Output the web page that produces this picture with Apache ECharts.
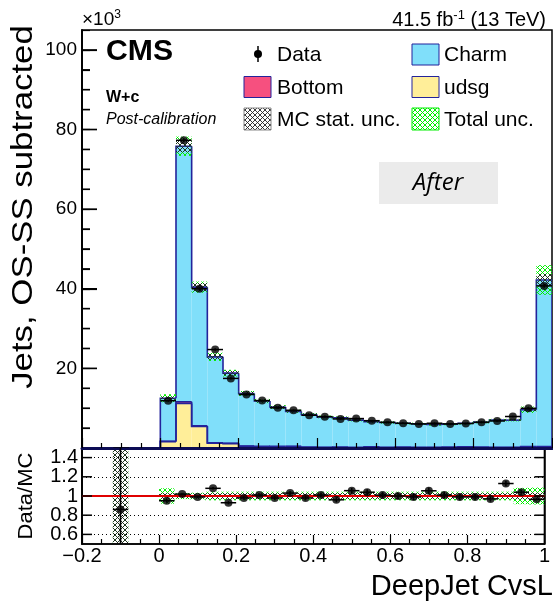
<!DOCTYPE html>
<html><head><meta charset="utf-8">
<script src="https://cdn.jsdelivr.net/npm/echarts@6/dist/echarts.min.js"></script>
<style>html,body{margin:0;padding:0;background:#fff}#c{width:553px;height:601px}</style>
</head><body><div id="c"></div>
<script>
// ---------------- data (values in units of 10^3 jets) ----------------
const binCenters = [-0.10, 0.02, 0.06, 0.10, 0.14, 0.18, 0.22, 0.26, 0.30, 0.34, 0.38, 0.42, 0.46, 0.50, 0.54, 0.58, 0.62, 0.66, 0.70, 0.74, 0.78, 0.82, 0.86, 0.90, 0.94, 0.98];
const binWidth = 0.04;
const charm  = [-0.03, 10.8, 64.2, 34.85, 21.6, 17.6, 13.2, 11.4, 9.85, 8.75, 8.15, 7.6, 7.35, 6.82, 6.27, 6.22, 5.97, 5.92, 5.72, 5.77, 5.87, 6.27, 6.82, 6.82, 9.25, 41.85];
const bottom = [0.0, 0.1, 0.4, 0.15, 0.1, 0.1, 0.1, 0.1, 0.25, 0.3, 0.15, 0.1, 0.15, 0.1, 0.25, 0.1, 0.15, 0.1, 0.1, 0.15, 0.25, 0.15, 0.1, 0.1, 0.25, 0.2];
const udsg   = [-0.02, 1.6, 11.2, 5.4, 1.2, 1.1, 0.4, 0.3, 0.2, 0.15, 0.1, 0.1, 0.1, 0.08, 0.08, 0.08, 0.08, 0.08, 0.08, 0.08, 0.08, 0.08, 0.08, 0.08, 0.1, 0.15];
const dataVals = [-0.043, 11.88, 77.3, 40.0, 24.73, 17.48, 13.43, 11.92, 10.09, 9.48, 8.23, 7.88, 7.30, 7.39, 6.86, 6.46, 6.20, 6.04, 6.22, 6.06, 6.14, 6.44, 6.79, 7.91, 9.98, 40.72];
const dataErr  = [0.2, 0.25, 0.5, 0.4, 0.3, 0.3, 0.25, 0.2, 0.2, 0.2, 0.2, 0.2, 0.2, 0.2, 0.2, 0.2, 0.2, 0.2, 0.2, 0.2, 0.2, 0.2, 0.2, 0.2, 0.25, 0.45];
const statUncRel = [6, 0.03, 0.02, 0.025, 0.03, 0.03, 0.03, 0.03, 0.03, 0.03, 0.03, 0.03, 0.03, 0.03, 0.03, 0.03, 0.03, 0.03, 0.03, 0.03, 0.03, 0.03, 0.03, 0.03, 0.035, 0.035];
const totUncRel  = [6, 0.08, 0.032, 0.035, 0.045, 0.045, 0.045, 0.045, 0.045, 0.045, 0.045, 0.045, 0.045, 0.045, 0.045, 0.045, 0.045, 0.045, 0.045, 0.045, 0.045, 0.045, 0.045, 0.045, 0.085, 0.088];
const yMajorTicks = [20, 40, 60, 80, 100];
const yMinorTicks = [5, 10, 15, 25, 30, 35, 45, 50, 55, 65, 70, 75, 85, 90, 95];
const ratioTicks = [0.6, 0.8, 1, 1.2, 1.4];
const ratioLabelsA = [0.6, 1, 1.4];
const ratioLabelsB = [0.8, 1.2];
const ratioGridLines = [0.6, 0.8, 1.2, 1.4];

// ---------------- derived ----------------
const MC = binCenters.map((_, i) => charm[i] + bottom[i] + udsg[i]);
const udsgTop = udsg.slice();
const bottomTop = udsg.map((v, i) => v + bottom[i]);
const ratio = dataVals.map((v, i) => v / MC[i]);
const ratioErr = dataErr.map((e, i) => e / Math.abs(MC[i]));

const FONT = "'Liberation Sans', Arial, Helvetica, sans-serif";
const C_CHARM = '#80dffa', C_BOTTOM = '#f6507f', C_UDSG = '#ffee99', C_LINE = '#23239b';

function hatch(color, size, lw) {
  const c = document.createElement('canvas'); c.width = c.height = size;
  const g = c.getContext('2d'); g.strokeStyle = color; g.lineWidth = lw;
  g.beginPath(); g.moveTo(0, 0); g.lineTo(size, size); g.moveTo(size, 0); g.lineTo(0, size); g.stroke();
  return { image: c, repeat: 'repeat' };
}
const GREEN_HATCH = hatch('#00ee00', 5, 1);
const BLACK_HATCH = hatch('#222', 5, 0.9);

function rectSeries(xi, yi, base, top, fill, z) {
  return {
    type: 'custom', xAxisIndex: xi, yAxisIndex: yi, z: z, clip: true, silent: true,
    encode: { x: [0, 1], y: [2, 3] },
    data: binCenters.map((c, i) => [c - binWidth / 2, c + binWidth / 2, base[i], top[i]]),
    renderItem: (params, api) => {
      const a = api.coord([api.value(0), api.value(3)]);
      const b = api.coord([api.value(1), api.value(2)]);
      const y0 = Math.min(a[1], b[1]), y1 = Math.max(a[1], b[1]);
      return { type: 'rect', shape: { x: a[0], y: y0, width: b[0] - a[0], height: y1 - y0 }, style: { fill: fill } };
    }
  };
}
function outlineSeries(top, z) {
  const contiguous = (i, j) => j >= 0 && j < binCenters.length && Math.abs(Math.abs(binCenters[j] - binCenters[i]) - binWidth) < 1e-6;
  return {
    type: 'custom', xAxisIndex: 0, yAxisIndex: 1, z: z, clip: true, silent: true,
    encode: { x: [0, 1], y: 2 },
    data: binCenters.map((c, i) => [c - binWidth / 2, c + binWidth / 2, top[i],
      contiguous(i, i - 1) ? top[i - 1] : 0, contiguous(i, i + 1) ? 1 : 0]),
    renderItem: (params, api) => {
      const x0 = api.value(0), x1 = api.value(1), t = api.value(2), pv = api.value(3), hasNext = api.value(4);
      const pts = [api.coord([x0, pv]), api.coord([x0, t]), api.coord([x1, t])];
      if (!hasNext) pts.push(api.coord([x1, 0]));
      return { type: 'polyline', shape: { points: pts }, style: { stroke: C_LINE, lineWidth: 1.6, fill: null } };
    }
  };
}
function errorSeries(xi, yi, vals, errs, z) {
  return {
    type: 'custom', xAxisIndex: xi, yAxisIndex: yi, z: z, clip: true, silent: true,
    encode: { x: 0, y: 1 },
    data: binCenters.map((c, i) => [c, vals[i], errs[i]]),
    renderItem: (params, api) => {
      const c = api.value(0), v = api.value(1), e = api.value(2);
      const l = api.coord([c - binWidth / 2, v]), r = api.coord([c + binWidth / 2, v]);
      const t = api.coord([c, v + e]), b = api.coord([c, v - e]);
      return { type: 'group', children: [
        { type: 'line', shape: { x1: l[0], y1: l[1], x2: r[0], y2: r[1] }, style: { stroke: '#000', lineWidth: 1.5 } },
        { type: 'line', shape: { x1: t[0], y1: t[1], x2: b[0], y2: b[1] }, style: { stroke: '#000', lineWidth: 1.5 } }
      ] };
    }
  };
}

const zeros = binCenters.map(() => 0);
const mcLoTot = MC.map((v, i) => v * (1 - totUncRel[i])), mcHiTot = MC.map((v, i) => v * (1 + totUncRel[i]));
const mcLoStat = MC.map((v, i) => v * (1 - statUncRel[i])), mcHiStat = MC.map((v, i) => v * (1 + statUncRel[i]));
const rLoTot = totUncRel.map(u => 1 - u), rHiTot = totUncRel.map(u => 1 + u);
const rLoStat = statUncRel.map(u => 1 - u), rHiStat = statUncRel.map(u => 1 + u);

const blackLine = () => ({ show: true, onZero: false, lineStyle: { color: '#000', width: 1.5 } });
const tickStyle = () => ({ color: '#000', width: 1.2 });
const xAxisCommon = () => ({
  type: 'value', min: -0.2, max: 1, interval: 0.2, position: 'bottom', z: 5,
  axisLine: blackLine(), splitLine: { show: false },
  axisTick: { show: true, inside: true, length: 10, lineStyle: tickStyle() },
  minorTick: { show: true, splitNumber: 4, length: 5, lineStyle: tickStyle() }
});
const ratioLabelAxis = (vals) => ({ gridIndex: 1, type: 'value', min: 0.5, max: 1.5, position: 'left',
  axisLine: blackLine(), splitLine: { show: false }, minorTick: { show: false }, axisTick: { show: false },
  axisLabel: { show: true, customValues: vals, hideOverlap: false, fontFamily: FONT, fontSize: 20, color: '#000', margin: 4 } });

const option = {
  animation: false,
  backgroundColor: '#fff',
  grid: [
    { left: 82, top: 30, width: 470, height: 418, show: true, borderColor: '#000', borderWidth: 1.5, backgroundColor: 'transparent' },
    { left: 82, top: 448, width: 470, height: 96, show: true, borderColor: '#000', borderWidth: 1.5, backgroundColor: 'transparent' }
  ],
  xAxis: [
    Object.assign(xAxisCommon(), { gridIndex: 0, axisLabel: { show: false },
      axisLine: { show: true, onZero: false, lineStyle: { color: '#0c0c55', width: 3 } } }),
    Object.assign(xAxisCommon(), { gridIndex: 1, axisTick: { show: true, inside: true, length: 9, lineStyle: tickStyle() },
      axisLabel: { show: true, fontFamily: FONT, fontSize: 20, color: '#000', margin: 2, hideOverlap: false,
        formatter: v => (Math.abs(v) < 1e-9 ? '0' : String(Math.round(v * 10) / 10).replace('-', '\u2212')) } })
  ],
  yAxis: [
    { gridIndex: 0, type: 'value', min: 0, max: 105, interval: 5, position: 'left',
      axisLine: blackLine(), splitLine: { show: false }, axisLabel: { show: false }, minorTick: { show: false },
      axisTick: { show: true, inside: true, length: 8, lineStyle: tickStyle() } },
    { gridIndex: 0, type: 'value', min: 0, max: 105, interval: 20, position: 'left',
      axisLine: blackLine(), splitLine: { show: false }, minorTick: { show: false },
      axisTick: { show: true, inside: true, length: 15, lineStyle: tickStyle() },
      axisLabel: { show: true, showMinLabel: false, showMaxLabel: false, hideOverlap: false, fontFamily: FONT, fontSize: 19, color: '#000', margin: 5,
        formatter: v => (v === 0 || v > 100 ? '' : String(v)) } },
    ratioLabelAxis(ratioLabelsA),
    { gridIndex: 1, type: 'value', min: 0.5, max: 1.5, position: 'right',
      axisLine: blackLine(), splitLine: { show: false }, minorTick: { show: false }, axisTick: { show: false }, axisLabel: { show: false } },
    ratioLabelAxis(ratioLabelsB)
  ],
  series: [
    rectSeries(0, 1, zeros, udsgTop, C_UDSG, 2),
    rectSeries(0, 1, udsgTop, bottomTop, C_BOTTOM, 2),
    rectSeries(0, 1, bottomTop, MC, C_CHARM, 2),
    outlineSeries(udsgTop, 3),
    outlineSeries(bottomTop, 3),
    outlineSeries(MC, 3),
    rectSeries(0, 1, mcLoTot, mcHiTot, GREEN_HATCH, 4),
    rectSeries(0, 1, mcLoStat, mcHiStat, BLACK_HATCH, 4),
    errorSeries(0, 1, dataVals, dataErr, 6),
    { type: 'scatter', xAxisIndex: 0, yAxisIndex: 1, z: 7, symbol: 'circle', symbolSize: 8, silent: true,
      itemStyle: { color: '#000' }, data: binCenters.map((c, i) => [c, dataVals[i]]) },
    // ratio panel
    { type: 'line', xAxisIndex: 1, yAxisIndex: 2, z: 1, symbol: 'none', silent: true, data: [],
      markLine: { silent: true, symbol: 'none', label: { show: false }, animation: false,
        lineStyle: { type: [1, 3], color: '#000', width: 1 }, data: ratioGridLines.map(v => ({ yAxis: v })) } },
    rectSeries(1, 2, rLoTot, rHiTot, GREEN_HATCH, 3),
    rectSeries(1, 2, rLoStat, rHiStat, BLACK_HATCH, 3),
    { type: 'line', xAxisIndex: 1, yAxisIndex: 2, z: 4, symbol: 'none', silent: true,
      lineStyle: { color: '#e00000', width: 1.8 }, data: [[-0.2, 1], [1, 1]] },
    errorSeries(1, 2, ratio, ratioErr, 6),
    { type: 'scatter', xAxisIndex: 1, yAxisIndex: 2, z: 7, symbol: 'circle', symbolSize: 8, silent: true,
      itemStyle: { color: '#000' }, data: binCenters.map((c, i) => [c, ratio[i]]) }
  ],
  graphic: [
    { type: 'text', id: 'ytitle', x: 24, y: 207, rotation: Math.PI / 2, scaleX: 1.2, style: { text: 'Jets, OS-SS subtracted', fontFamily: FONT, fontSize: 29, fill: '#000', textAlign: 'center', textVerticalAlign: 'middle' } },
    { type: 'text', id: 'rtitle', x: 26, y: 496, rotation: Math.PI / 2, scaleX: 1.1, style: { text: 'Data/MC', fontFamily: FONT, fontSize: 20, fill: '#000', textAlign: 'center', textVerticalAlign: 'middle' } },
    { type: 'text', id: 'xtitle', x: 553, y: 587, style: { text: 'DeepJet CvsL', fontFamily: FONT, fontSize: 29, fill: '#000', textAlign: 'right', textVerticalAlign: 'middle' } },
    { type: 'text', id: 'exp', x: 82, y: 20, style: { text: '{a|×10}{s|3}', fill: '#000', textAlign: 'left', textVerticalAlign: 'middle',
      rich: { a: { fontFamily: FONT, fontSize: 19 }, s: { fontFamily: FONT, fontSize: 12, verticalAlign: 'top', padding: [0, 0, 10, 0] } } } },
    { type: 'text', id: 'lumi', x: 546, y: 20, style: { text: '{a|41.5 fb}{s|-1}{a| (13 TeV)}', fill: '#000', textAlign: 'right', textVerticalAlign: 'middle',
      rich: { a: { fontFamily: FONT, fontSize: 20 }, s: { fontFamily: FONT, fontSize: 13, padding: [0, 0, 10, 0] } } } },
    { type: 'text', id: 'cms', x: 106, y: 52, scaleX: 1.04, style: { text: 'CMS', fontFamily: FONT, fontSize: 29, fontWeight: 'bold', fill: '#000', textVerticalAlign: 'middle' } },
    { type: 'text', id: 'wc', x: 106, y: 98, style: { text: 'W+c', fontFamily: FONT, fontSize: 16, fontWeight: 'bold', fill: '#000', textVerticalAlign: 'middle' } },
    { type: 'text', id: 'post', x: 106, y: 120, style: { text: 'Post-calibration', fontFamily: FONT, fontSize: 16, fontStyle: 'italic', fill: '#000', textVerticalAlign: 'middle' } },
    { type: 'rect', id: 'afterbox', shape: { x: 379, y: 162, width: 119, height: 42 }, style: { fill: '#ebebeb' } },
    { type: 'text', id: 'after', x: 438, y: 183, style: { text: 'After', fontFamily: "'Open Sans', sans-serif", fontSize: 24, fontStyle: 'italic', fill: '#000', textAlign: 'center', textVerticalAlign: 'middle' } },
    { type: 'line', id: 'lgDataBar', shape: { x1: 258, y1: 46, x2: 258, y2: 62 }, style: { stroke: '#000', lineWidth: 1.5 } },
    { type: 'circle', id: 'lgDataDot', shape: { cx: 258, cy: 54, r: 4 }, style: { fill: '#000' } },
    { type: 'text', id: 'lgDataT', x: 277, y: 55, style: { text: 'Data', fontFamily: FONT, fontSize: 21, fill: '#000', textVerticalAlign: 'middle' } },
    { type: 'rect', id: 'lgCharm', shape: { x: 412, y: 44, width: 27, height: 21 }, style: { fill: C_CHARM, stroke: C_LINE, lineWidth: 1 } },
    { type: 'text', id: 'lgCharmT', x: 444, y: 55, style: { text: 'Charm', fontFamily: FONT, fontSize: 21, fill: '#000', textVerticalAlign: 'middle' } },
    { type: 'rect', id: 'lgBottom', shape: { x: 244, y: 76.5, width: 27, height: 21 }, style: { fill: C_BOTTOM, stroke: C_LINE, lineWidth: 1 } },
    { type: 'text', id: 'lgBottomT', x: 277, y: 88, style: { text: 'Bottom', fontFamily: FONT, fontSize: 21, fill: '#000', textVerticalAlign: 'middle' } },
    { type: 'rect', id: 'lgUdsg', shape: { x: 412, y: 76.5, width: 27, height: 21 }, style: { fill: C_UDSG, stroke: C_LINE, lineWidth: 1 } },
    { type: 'text', id: 'lgUdsgT', x: 444, y: 88, style: { text: 'udsg', fontFamily: FONT, fontSize: 21, fill: '#000', textVerticalAlign: 'middle' } },
    { type: 'rect', id: 'lgStat', shape: { x: 244, y: 108, width: 27, height: 22 }, style: { fill: BLACK_HATCH, stroke: '#888', lineWidth: 1 } },
    { type: 'text', id: 'lgStatT', x: 277, y: 120, style: { text: 'MC stat. unc.', fontFamily: FONT, fontSize: 21, fill: '#000', textVerticalAlign: 'middle' } },
    { type: 'rect', id: 'lgTot', shape: { x: 412, y: 108, width: 27, height: 22 }, style: { fill: GREEN_HATCH, stroke: '#00ee00', lineWidth: 1 } },
    { type: 'text', id: 'lgTotT', x: 444, y: 120, style: { text: 'Total unc.', fontFamily: FONT, fontSize: 21, fill: '#000', textVerticalAlign: 'middle' } }
  ]
};
const chart = echarts.init(document.getElementById('c'), null, { renderer: 'canvas' });
chart.setOption(option);

// inward y-axis tick marks (ROOT style), positioned through the axes' own scales
const tickEls = [];
function addTicks(xi, yi, vals, xEdge, len, dir, idp) {
  vals.forEach((v, k) => {
    const p = chart.convertToPixel({ xAxisIndex: xi, yAxisIndex: yi }, [xEdge, v]);
    if (!p) return;
    tickEls.push({ type: 'line', id: idp + k, z: 100, silent: true,
      shape: { x1: p[0], y1: p[1], x2: p[0] + dir * len, y2: p[1] }, style: { stroke: '#000', lineWidth: 1.5 } });
  });
}
addTicks(0, 1, yMajorTicks, -0.2, 15, 1, 'tMaj');
addTicks(0, 1, yMinorTicks, -0.2, 8, 1, 'tMin');
addTicks(1, 2, ratioTicks, -0.2, 10, 1, 'tRL');
addTicks(1, 2, ratioTicks, 1, 10, -1, 'tRR');
chart.setOption({ graphic: tickEls });
</script>
</body></html>
